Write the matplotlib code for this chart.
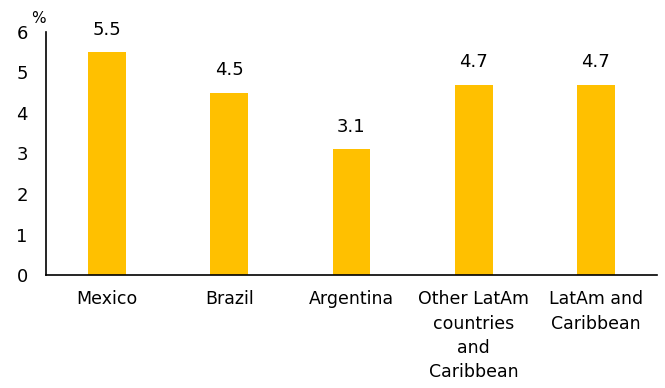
import numpy as np
import matplotlib.pyplot as plt

categories = ["Mexico", "Brazil", "Argentina",
              "Other LatAm\ncountries\nand\nCaribbean", "LatAm and\nCaribbean"]
values = [5.5, 4.5, 3.1, 4.7, 4.7]
yticks = [0, 1, 2, 3, 4, 5, 6]

plt.rcParams['font.family'] = 'DejaVu Sans'

fig = plt.figure(figsize=(6.65, 3.88), dpi=100)
ax = fig.add_axes([0.069, 0.291, 0.919, 0.627])

x = np.arange(len(categories))
ax.bar(x, values, width=0.31, color='#FFC000')
for xi, v in zip(x, values):
    ax.text(xi, v + 0.33, f"{v:.1f}", ha='center', va='bottom', fontsize=13)

ax.set_xlim(-0.5, 4.5)
ax.set_ylim(0, 6)
ax.set_yticks(yticks)
ax.set_xticks(x)
ax.set_xticklabels(categories, fontsize=12.5, linespacing=1.45)
ax.tick_params(axis='y', length=0, labelsize=13, pad=13)
ax.tick_params(axis='x', length=0, pad=11)

for s in ['top', 'right']:
    ax.spines[s].set_visible(False)
ax.spines['left'].set_linewidth(1.2)
ax.spines['bottom'].set_linewidth(1.2)

ax.text(-0.012, 1.025, "%", transform=ax.transAxes, ha='center', va='bottom', fontsize=11)

fig.savefig("out.png", dpi=100)
